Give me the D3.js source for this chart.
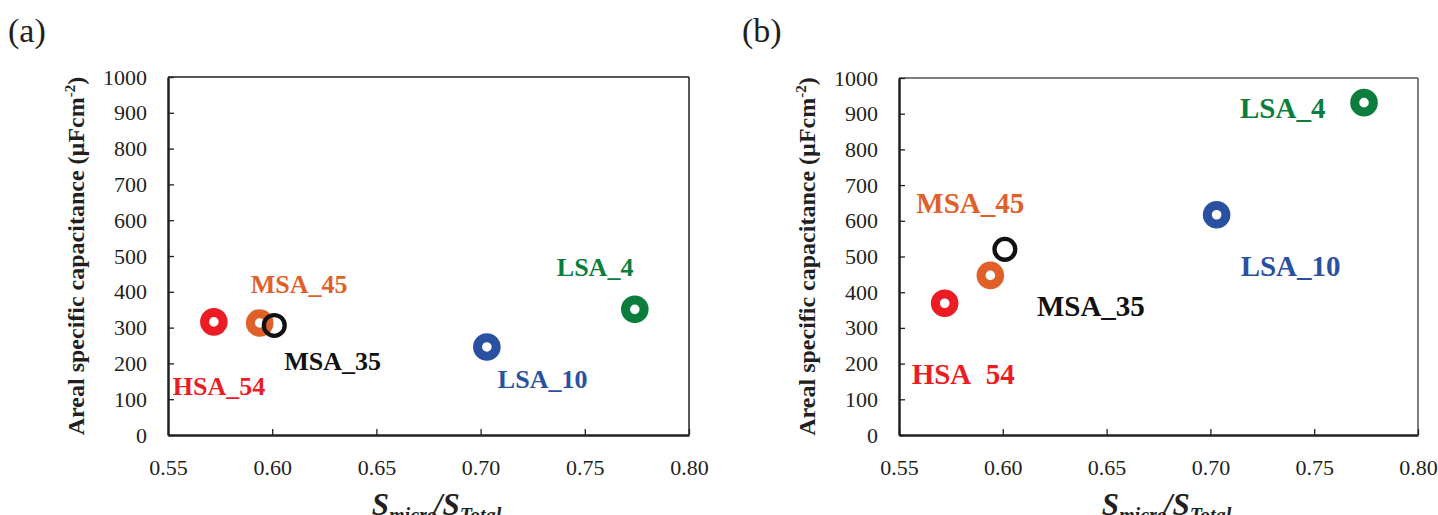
<!DOCTYPE html>
<html>
<head>
<meta charset="utf-8">
<script src="https://cdn.jsdelivr.net/npm/d3@7/dist/d3.min.js"></script>
<style>
  html, body { margin: 0; padding: 0; background: #fff; }
  svg { display: block; }
  svg text { font-family: "Liberation Serif", "Times New Roman", serif !important; }
</style>
</head>
<body>
<svg id="chart" width="1438" height="515"></svg>
<script>
// Samples and their micropore surface ratio S_micro / S_Total
const samples = ["HSA_54", "MSA_45", "MSA_35", "LSA_10", "LSA_4"];
const sampleLabelsB = ["HSA\u200254", "MSA_45", "MSA_35", "LSA_10", "LSA_4"];
const ratio = [0.572, 0.594, 0.601, 0.703, 0.774];
// Areal specific capacitance (µF cm^-2), panels (a) and (b)
const capacitanceA = [316, 313, 306, 246, 351];
const capacitanceB = [369, 447, 520, 617, 931];
const colors = ["#ED1C24", "#E0602A", "#111111", "#2A50A2", "#0B7E3E"];
const xTicks = [0.55, 0.60, 0.65, 0.70, 0.75, 0.80];
const yTicks = [0, 100, 200, 300, 400, 500, 600, 700, 800, 900, 1000];

const svg = d3.select("#chart");
const SERIF = "'Liberation Serif', 'Times New Roman', serif";

const panels = [
  {
    tag: "(a)", tagX: 8, tagY: 42,
    left: 168, right: 689, top: 77, bottom: 435,
    values: capacitanceA, labels: samples, labelSize: 26,
    offsets: [[-41, 73], [-9, -30], [10, 45], [11, 41], [-78, -33]],
    frameColor: "#231f20"
  },
  {
    tag: "(b)", tagX: 742, tagY: 42,
    left: 899, right: 1418, top: 78, bottom: 435,
    values: capacitanceB, labels: sampleLabelsB, labelSize: 29,
    offsets: [[-33, 81], [-74, -62], [32, 67], [24, 61], [-124, 15]],
    frameColor: "#555"
  }
];

panels.forEach(p => {
  const g = svg.append("g");
  const x = d3.scaleLinear().domain([0.55, 0.80]).range([p.left, p.right]);
  const y = d3.scaleLinear().domain([0, 1000]).range([p.bottom, p.top]);

  // panel tag
  g.append("text").attr("x", p.tagX).attr("y", p.tagY)
    .attr("font-size", 34).attr("fill", "#231f20").text(p.tag);

  // top and right frame lines
  g.append("line").attr("x1", p.left).attr("x2", p.right).attr("y1", p.top).attr("y2", p.top)
    .attr("stroke", p.frameColor).attr("stroke-width", 1.5);
  g.append("line").attr("x1", p.right).attr("x2", p.right).attr("y1", p.top).attr("y2", p.bottom)
    .attr("stroke", p.frameColor).attr("stroke-width", 1.5);

  // x axis with inward ticks
  const xa = g.append("g").attr("transform", `translate(0,${p.bottom})`)
    .call(d3.axisBottom(x).tickValues(xTicks).tickFormat(d3.format(".2f"))
      .tickSizeInner(-6).tickSizeOuter(0).tickPadding(24))
    .attr("font-family", SERIF).attr("font-size", 22);
  xa.select(".domain").attr("stroke", "#231f20").attr("stroke-width", 2.5);
  xa.selectAll(".tick line").attr("stroke", "#231f20").attr("stroke-width", 1.3);
  xa.selectAll(".tick text").attr("fill", "#231f20");

  // y axis with inward ticks
  const ya = g.append("g").attr("transform", `translate(${p.left},0)`)
    .call(d3.axisLeft(y).tickValues(yTicks).tickFormat(d3.format("d"))
      .tickSizeInner(-6).tickSizeOuter(0).tickPadding(21))
    .attr("font-family", SERIF).attr("font-size", 22);
  ya.select(".domain").attr("stroke", "#231f20").attr("stroke-width", 2.5);
  ya.selectAll(".tick line").attr("stroke", "#231f20").attr("stroke-width", 1.3);
  ya.selectAll(".tick text").attr("fill", "#231f20");

  // y axis title
  const yt = g.append("text")
    .attr("transform", `translate(${p.left - 84},${(p.top + p.bottom) / 2}) rotate(-90)`)
    .attr("text-anchor", "middle").attr("font-size", 24).attr("font-weight", "bold")
    .attr("fill", "#231f20");
  yt.append("tspan").text("Areal specific capacitance (\u00b5Fcm");
  yt.append("tspan").attr("font-size", 15).attr("dy", -9).text("-2");
  yt.append("tspan").attr("dy", 9).text(")");

  // x axis title: S_micro / S_Total
  const xt = g.append("text")
    .attr("x", (p.left + p.right) / 2 + 8).attr("y", 515)
    .attr("text-anchor", "middle").attr("font-weight", "bold").attr("font-style", "italic")
    .attr("font-size", 31).attr("fill", "#231f20");
  xt.append("tspan").text("S");
  xt.append("tspan").attr("font-size", 20).attr("dy", 7).text("micro");
  xt.append("tspan").attr("dy", -7).attr("dx", -3).text("/S");
  xt.append("tspan").attr("font-size", 20).attr("dy", 7).text("Total");

  // ring markers
  g.selectAll("circle.pt").data(samples).enter().append("circle")
    .attr("class", "pt")
    .attr("cx", (d, i) => x(ratio[i]))
    .attr("cy", (d, i) => y(p.values[i]))
    .attr("r", (d, i) => i === 2 ? 10.4 : 9.3)
    .attr("fill", "none")
    .attr("stroke", (d, i) => colors[i])
    .attr("stroke-width", (d, i) => i === 2 ? 4.3 : 9);

  // sample labels
  g.selectAll("text.lbl").data(p.labels).enter().append("text")
    .attr("class", "lbl")
    .attr("x", (d, i) => x(ratio[i]) + p.offsets[i][0])
    .attr("y", (d, i) => y(p.values[i]) + p.offsets[i][1])
    .attr("font-size", p.labelSize).attr("font-weight", "bold")
    .attr("fill", (d, i) => colors[i])
    .text(d => d);
});
</script>
</body>
</html>
